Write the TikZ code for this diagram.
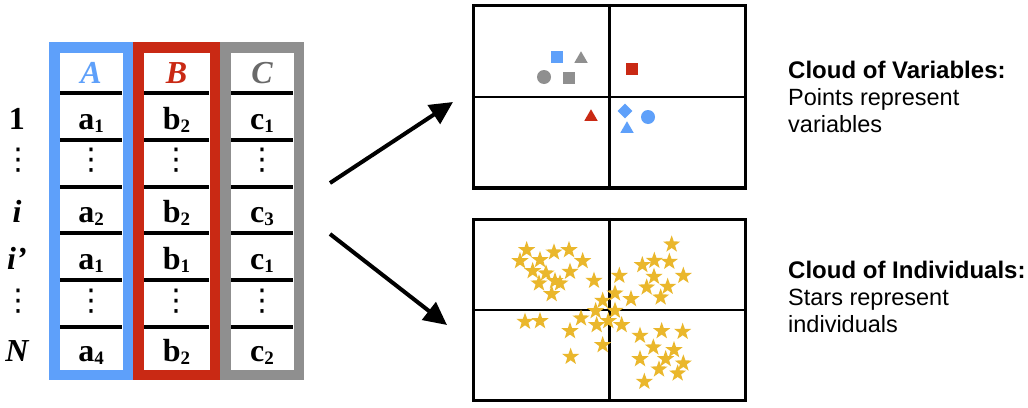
\documentclass[tikz,border=0pt]{standalone}
\usepackage{fontspec}
\setmainfont{Liberation Serif}
\newfontfamily\helv{Liberation Sans}
\newfontfamily\djv{DejaVu Sans}
\usetikzlibrary{shapes.geometric,arrows.meta}
\definecolor{cblue}{RGB}{94,160,250}
\definecolor{cred}{RGB}{201,41,20}
\definecolor{cgray}{RGB}{143,143,143}
\definecolor{cdgray}{RGB}{105,105,105}
\definecolor{cstar}{RGB}{234,183,44}
\newcommand{\sbs}[1]{\raisebox{-3pt}{\fontsize{19}{19}\selectfont #1}}
\newcommand{\vdts}{{\djv\fontsize{30}{30}\selectfont ⋮}}
\begin{document}
\begin{tikzpicture}[x=1pt,y=-1pt,
  colbox/.style={line width=10.5pt, fill=white, inner sep=0pt, minimum width=73.5pt, minimum height=327.5pt},
  sepline/.style={line width=3.5pt, black},
  cell/.style={anchor=base, inner sep=0pt, font=\fontsize{32}{32}\selectfont\bfseries},
  hdr/.style={anchor=base, inner sep=0pt, font=\fontsize{32}{32}\selectfont\bfseries\itshape},
  dts/.style={inner sep=0pt},
  plotbox/.style={draw=black, line width=3.3pt, inner sep=0pt, minimum width=272pt},
  axis/.style={line width=2.5pt, black},
  sq/.style={rectangle, inner sep=0pt, minimum size=12pt},
  tri/.style={regular polygon, regular polygon sides=3, inner sep=0pt, minimum size=15.5pt},
  circ/.style={circle, inner sep=0pt, minimum size=14pt},
  dia/.style={diamond, aspect=1, inner sep=0pt, minimum size=15pt},
  st/.style={star, star points=5, star point ratio=2.5, fill=cstar, inner sep=0pt, minimum size=18pt},
  bigarrow/.style={line width=4pt, -{Triangle[length=23pt, width=22pt]}},
  ttl/.style={anchor=base west, inner sep=0pt, font=\helv\fontsize{24}{24}\selectfont\bfseries},
  dsc/.style={anchor=base west, inner sep=0pt, font=\helv\fontsize{23.5}{23.5}\selectfont}
]
\useasboundingbox[fill=white] (0,0) rectangle (1028,407);

% table columns
\node[colbox, draw=cblue] (colA) at (91,211) {};
\node[colbox, draw=cred, minimum width=76.5pt] (colB) at (176.5,211) {};
\node[colbox, draw=cgray] (colC) at (262,211) {};

\foreach \y in {93,140,187,233,280,327} {
  \draw[sepline] (60,\y) -- (122,\y);
  \draw[sepline] (144,\y) -- (209,\y);
  \draw[sepline] (231,\y) -- (293,\y);
}

% headers
\node[hdr, text=cblue] (hA) at (91,83) {A};
\node[hdr, text=cred] (hB) at (176.5,83) {B};
\node[hdr, text=cdgray] (hC) at (262,83) {C};

% row labels
\node[cell] (r1) at (17,129) {1};
\node[dts] (rd1) at (18,160) {\vdts};
\node[hdr] (ri) at (17,222.5) {i};
\node[hdr] (rip) at (17,269) {i’};
\node[dts] (rd2) at (18,301) {\vdts};
\node[hdr] (rN) at (17,361) {N};

% column A
\node[cell] (a1) at (91,129) {a\sbs{1}};
\node[dts] (ad1) at (91,160) {\vdts};
\node[cell] (a2) at (91,222.5) {a\sbs{2}};
\node[cell] (a3) at (91,269) {a\sbs{1}};
\node[dts] (ad2) at (91,301) {\vdts};
\node[cell] (a4) at (91,361) {a\sbs{4}};
% column B
\node[cell] (b1) at (176.5,129) {b\sbs{2}};
\node[dts] (bd1) at (176.5,160) {\vdts};
\node[cell] (b2) at (176.5,222.5) {b\sbs{2}};
\node[cell] (b3) at (176.5,269) {b\sbs{1}};
\node[dts] (bd2) at (176.5,301) {\vdts};
\node[cell] (b4) at (176.5,361) {b\sbs{2}};
% column C
\node[cell] (c1) at (262,129) {c\sbs{1}};
\node[dts] (cd1) at (262,160) {\vdts};
\node[cell] (c2) at (262,222.5) {c\sbs{3}};
\node[cell] (c3) at (262,269) {c\sbs{1}};
\node[dts] (cd2) at (262,301) {\vdts};
\node[cell] (c4) at (262,361) {c\sbs{2}};

% plots
\node[plotbox, minimum height=182.5pt] (vplot) at (609.5,96.75) {};
\draw[axis] (vplot.north) -- (vplot.south);
\draw[axis] (vplot.west) -- (vplot.east);
\node[plotbox, minimum height=181pt] (iplot) at (609.5,310) {};
\draw[axis] (iplot.north) -- (iplot.south);
\draw[axis] (iplot.west) -- (iplot.east);

% variable points
\node[sq, fill=cblue] (vA1) at (557,57) {};
\node[tri, fill=cgray] (vC1) at (581,59) {};
\node[circ, fill=cgray] (vC2) at (544,77) {};
\node[sq, fill=cgray] (vC3) at (569,78) {};
\node[sq, fill=cred] (vB1) at (632,69) {};
\node[tri, fill=cred] (vB2) at (591,117) {};
\node[dia, fill=cblue] (vA2) at (625,111) {};
\node[circ, fill=cblue] (vA3) at (648,117) {};
\node[tri, fill=cblue] (vA4) at (627,129) {};

% individuals
\foreach \a/\b [count=\k] in {170/105,150/138,210/135,252/112,297/105,338/138,188/168,228/175,300/170,207/205,255/198,270/205,245/237,372/197,448/182,517/150,553/137,598/140,605/88,640/182,552/185,530/217,593/215,572/247,435/235,483/252,398/257,377/288,435/287,165/320,210/318,333/310,380/330,415/318,455/330,300/348,398/390,302/425,510/362,575/348,638/350,550/397,612/405,510/432,587/432,640/445,567/463,623/475,523/500}
  \node[st] (s\k) at ({470+\a/3},{215+\b/3}) {};

% arrows
\coordinate (as1) at (330,183);
\coordinate (ae1) at (453,102);
\coordinate (as2) at (330,234);
\coordinate (ae2) at (447,325);
\draw[bigarrow] (as1) -- (ae1);
\draw[bigarrow] (as2) -- (ae2);

% descriptions
\node[ttl] (t1) at (788,78) {Cloud of Variables:};
\node[dsc] (t1a) at (788,105) {Points represent};
\node[dsc] (t1b) at (788,132) {variables};
\node[ttl] (t2) at (788,278) {Cloud of Individuals:};
\node[dsc] (t2a) at (788,305) {Stars represent};
\node[dsc] (t2b) at (788,332) {individuals};
\end{tikzpicture}
\end{document}
